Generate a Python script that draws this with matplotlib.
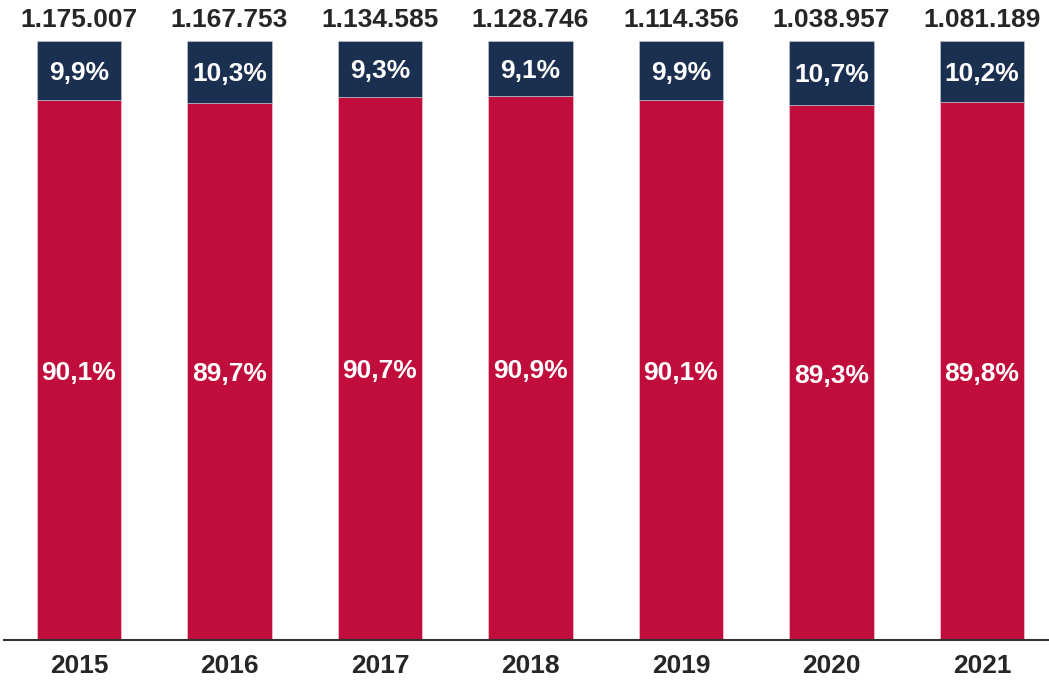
import matplotlib.pyplot as plt

plt.rcParams['font.family'] = ['Liberation Sans', 'DejaVu Sans']

years = ['2015', '2016', '2017', '2018', '2019', '2020', '2021']
totals = ['1.175.007', '1.167.753', '1.134.585', '1.128.746', '1.114.356', '1.038.957', '1.081.189']
share_low = [90.1, 89.7, 90.7, 90.9, 90.1, 89.3, 89.8]   # red part
share_top = [9.9, 10.3, 9.3, 9.1, 9.9, 10.7, 10.2]      # navy part

red = '#C00D3C'
navy = '#1B2F50'

fig = plt.figure(figsize=(10.49, 6.81), dpi=100)
ax = fig.add_axes([4 / 1049, 41 / 681, 1045 / 1049, 599 / 681])

x = range(len(years))
ax.bar(x, share_low, width=0.56, color=red, edgecolor='#f3d6dc', linewidth=0.4)
ax.bar(x, share_top, width=0.56, bottom=share_low, color=navy, edgecolor='#c9ced8', linewidth=0.4)

fs = 19
for i in x:
    lo, hi = share_low[i], share_top[i]
    ax.text(i, lo / 2 - 0.5, f'{lo:.1f}%'.replace('.', ','), ha='center', va='center',
            color='white', fontsize=fs, fontweight='bold')
    ax.text(i, lo + hi / 2 - 0.4, f'{hi:.1f}%'.replace('.', ','), ha='center', va='center',
            color='white', fontsize=fs, fontweight='bold')
    ax.text(i, 103.5, totals[i], ha='center', va='center',
            color='#262626', fontsize=fs, fontweight='bold', clip_on=False)

ax.set_xlim(-0.498, 6.445)
ax.set_ylim(0, 100)
ax.set_yticks([])
ax.set_xticks(list(x))
ax.set_xticklabels(years, fontsize=fs, fontweight='bold', color='#262626')
ax.tick_params(axis='x', length=0, pad=10)
for s in ['top', 'right', 'left']:
    ax.spines[s].set_visible(False)
ax.spines['bottom'].set_linewidth(1.5)
ax.spines['bottom'].set_color('#333333')

fig.savefig('out.png', dpi=100)
